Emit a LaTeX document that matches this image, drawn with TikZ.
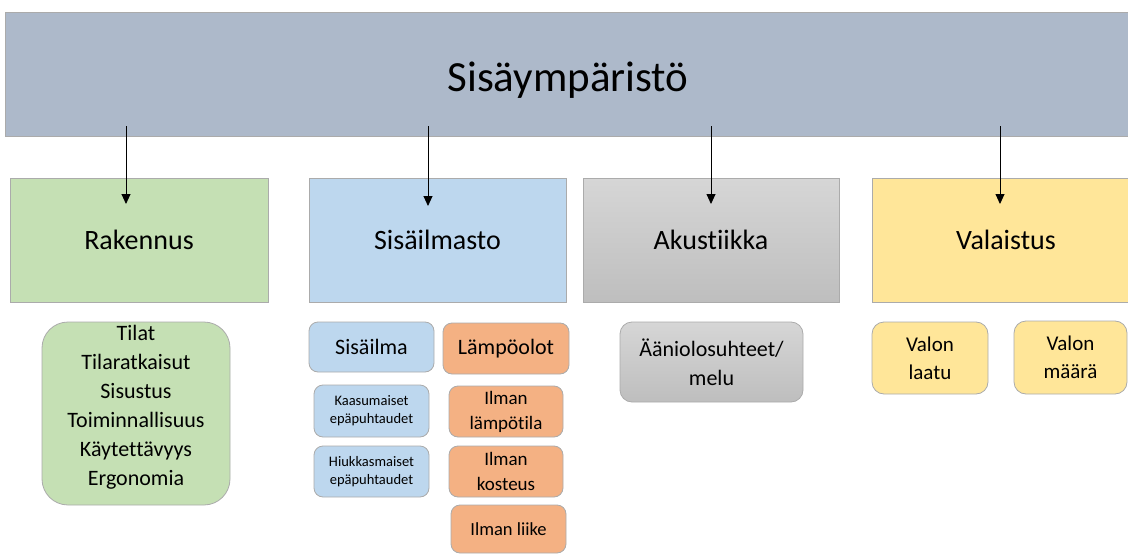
\documentclass[tikz,border=0pt]{standalone}
\usepackage{fontspec}
\setmainfont{Carlito}[Ligatures=NoCommon]
\usetikzlibrary{arrows.meta}

\definecolor{barfill}{HTML}{ADB9CA}
\definecolor{greenfill}{HTML}{C5E0B4}
\definecolor{bluefill}{HTML}{BDD7EE}
\definecolor{yellowfill}{HTML}{FFE699}
\definecolor{orangefill}{HTML}{F4B183}
\definecolor{greytop}{HTML}{D6D6D6}
\definecolor{greybot}{HTML}{BEBEBE}
\definecolor{edge}{HTML}{ABABAB}

\tikzset{
  box/.style={draw=edge, line width=0.8pt, rectangle, inner sep=0pt, align=center, text=black},
  rbox/.style={box, rounded corners=#1},
  rbox/.default=9pt,
  fs/.style 2 args={font=\fontsize{#1}{#2}\selectfont},
  link/.style={-{Triangle[width=9pt,length=10pt]}, line width=0.9pt, black},
}

% place a box by its left, top, right and bottom edges (in px, y downwards)
\newcommand{\boxat}[6]{%
  \node[#1, minimum width={#4-#2}, minimum height={#5-#3}] (#6) at ({(#2+#4)/2},{(#3+#5)/2})}

\begin{document}
\begin{tikzpicture}[x=1pt,y=-1pt]
\useasboundingbox (0,0) rectangle (1128,554);

% top bar
\boxat{box, fill=barfill}{5}{12}{1140}{136}{top} {};
\node[fs={43}{50}] (title) at (568,80) {Sis\"aymp\"arist\"o};

% main areas
\boxat{box, fill=greenfill, fs={28}{32}}{10}{178}{268}{302}{rak} {Rakennus};
\boxat{box, fill=bluefill, fs={28}{32}}{309}{178}{566}{302}{sis} {Sis\"ailmasto};
\boxat{box, top color=greytop, bottom color=greybot, fs={28}{32}}{583}{178}{839}{302}{aku} {Akustiikka};
\boxat{box, fill=yellowfill, fs={28}{32}}{872}{178}{1140}{302}{val} {Valaistus};

% arrows from the top bar
\coordinate (s1) at (126,126);
\coordinate (s2) at (428,126);
\coordinate (s3) at (711,126);
\coordinate (s4) at (1000,126);
\draw[link] (s1) -- (s1 |- 0,204) coordinate (e1);
\draw[link] (s2) -- (s2 |- 0,206) coordinate (e2);
\draw[link] (s3) -- (s3 |- 0,204) coordinate (e3);
\draw[link] (s4) -- (s4 |- 0,204) coordinate (e4);

% Rakennus
\boxat{rbox=26pt, fill=greenfill}{42}{322}{230}{505}{rakitems} {};
\node[fs={22}{29}, align=center] (raktext) at (136,407) {Tilat\\Tilaratkaisut\\Sisustus\\Toiminnallisuus\\K\"aytett\"avyys\\Ergonomia};

% Sisailmasto
\boxat{rbox, fill=bluefill, fs={22}{26}}{309}{322}{434}{372}{ilma} {Sis\"ailma};
\boxat{rbox, fill=bluefill, fs={14.5}{18}}{314}{385}{429}{437}{kaasu} {Kaasumaiset\\ep\"apuhtaudet};
\boxat{rbox, fill=bluefill, fs={14.5}{18}}{314}{446}{429}{497}{hiukk} {Hiukkasmaiset\\ep\"apuhtaudet};
\boxat{rbox, fill=orangefill, fs={22}{26}}{443}{323}{569}{374}{lampo} {L\"amp\"oolot};
\boxat{rbox, fill=orangefill, fs={19}{25}}{449}{386}{563}{437}{lt} {Ilman\\l\"amp\"otila};
\boxat{rbox, fill=orangefill, fs={19}{25}}{449}{446}{563}{497}{kost} {Ilman\\kosteus};
\boxat{rbox, fill=orangefill, fs={18.5}{22}}{451}{505}{566}{553}{liike} {Ilman liike};

% Akustiikka
\boxat{rbox=12pt, top color=greytop, bottom color=greybot, fs={22}{29}}{620}{322}{803}{402}{aani} {\"A\"aniolosuhteet/\\melu};

% Valaistus
\boxat{rbox=12pt, fill=yellowfill, fs={21}{28}}{872}{322}{988}{394}{laatu} {Valon\\laatu};
\boxat{rbox=12pt, fill=yellowfill, fs={21}{28}}{1014}{321}{1127}{394}{maara} {Valon\\m\"a\"ar\"a};
\end{tikzpicture}
\end{document}
